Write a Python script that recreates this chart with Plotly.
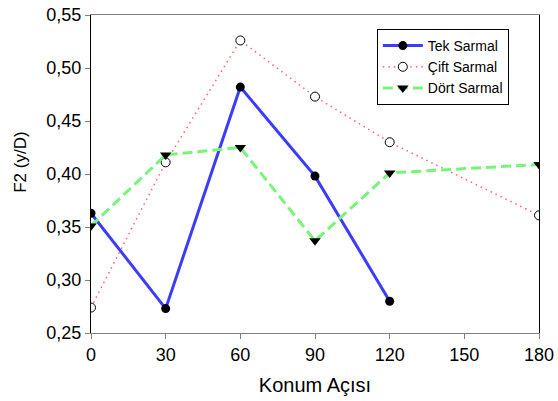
import plotly.graph_objects as go

x_tek = [0, 30, 60, 90, 120]
y_tek = [0.363, 0.273, 0.482, 0.398, 0.280]
x_cift = [0, 30, 60, 90, 120, 180]
y_cift = [0.274, 0.411, 0.526, 0.473, 0.430, 0.361]
x_dort = [0, 30, 60, 90, 120, 180]
y_dort = [0.351, 0.418, 0.425, 0.337, 0.401, 0.409]
x_ticks = [0, 30, 60, 90, 120, 150, 180]
y_ticks = [0.25, 0.30, 0.35, 0.40, 0.45, 0.50, 0.55]

fig = go.Figure()
fig.add_trace(go.Scatter(x=x_tek, y=y_tek, name="Tek Sarmal", mode="lines+markers",
                         line=dict(color="rgb(60,60,255)", width=3),
                         marker=dict(symbol="circle", size=9, color="black")))
fig.add_trace(go.Scatter(x=x_cift, y=y_cift, name="Çift Sarmal", mode="lines+markers",
                         line=dict(color="rgb(255,100,100)", width=1.5, dash="1.5px,4px"),
                         marker=dict(symbol="circle", size=9, color="white",
                                     line=dict(width=1, color="black"))))
fig.add_trace(go.Scatter(x=x_dort, y=y_dort, name="Dört Sarmal", mode="lines+markers",
                         line=dict(color="rgb(120,245,120)", width=3, dash="10px,5px"),
                         marker=dict(symbol="triangle-down", size=10, color="black")))

fig.update_layout(
    width=558, height=401,
    margin=dict(l=91, r=19, t=15, b=68, autoexpand=False),
    paper_bgcolor="white", plot_bgcolor="white",
    separators=",.",
    font=dict(family="Liberation Sans, Arial, sans-serif", color="black"),
    showlegend=True,
    legend=dict(x=0.638, y=0.956, xanchor="left", yanchor="top",
                bordercolor="black", borderwidth=1, bgcolor="white",
                font=dict(size=14), tracegroupgap=0, itemwidth=40),
    xaxis=dict(range=[0, 180], tickvals=x_ticks, ticks="outside", ticklen=5,
               tickcolor="gray", showline=True, linecolor="gray", linewidth=1,
               mirror=True, showgrid=False, zeroline=False, automargin=False,
               tickfont=dict(size=18),
               title=dict(text="Konum Açısı", font=dict(size=20), standoff=14)),
    yaxis=dict(range=[0.25, 0.55], tickvals=y_ticks, tickformat=".2f", ticks="outside",
               ticklen=5, tickcolor="gray", showline=True, linecolor="black", linewidth=1,
               mirror=True, showgrid=False, zeroline=False, automargin=False,
               tickfont=dict(size=18)),
    annotations=[dict(text="F2 (y/D)", xref="paper", yref="paper",
                      x=-0.158, y=0.536, xanchor="center", yanchor="middle",
                      textangle=-90, showarrow=False, font=dict(size=17))],
)
fig.write_html("out.html", config={"displayModeBar": False},
               post_script="document.body.style.margin='0';document.body.style.overflow='hidden';")
